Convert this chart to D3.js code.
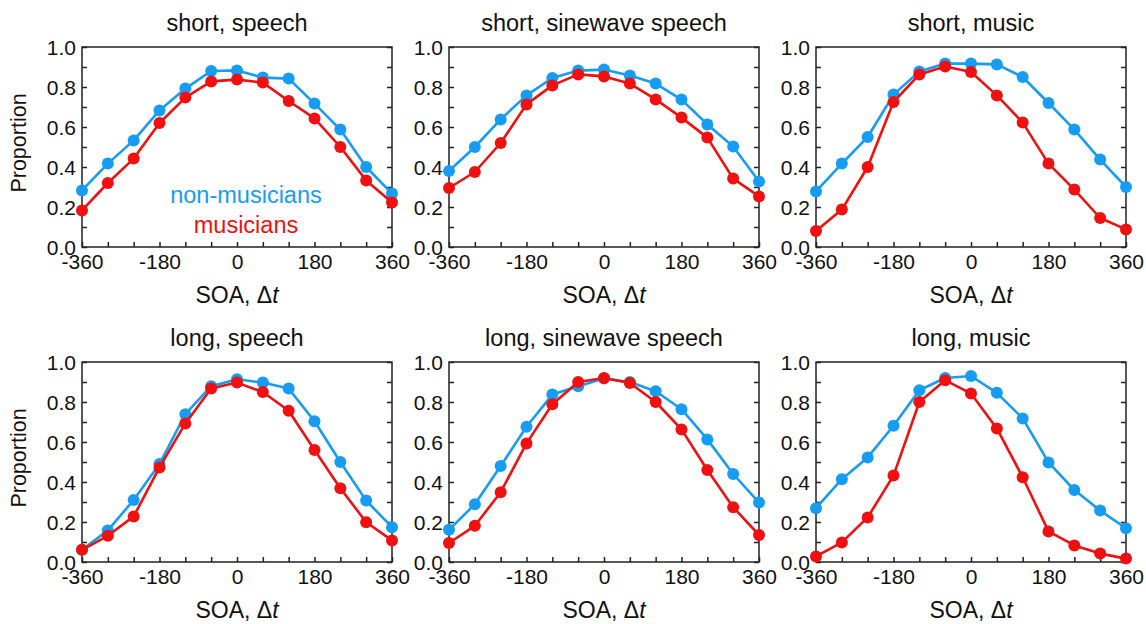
<!DOCTYPE html>
<html><head><meta charset="utf-8">
<script src="https://cdn.jsdelivr.net/npm/d3@7"></script>
<style>
html,body{margin:0;padding:0;background:#fff;}
text{font-family:"Liberation Sans",Arial,Helvetica,sans-serif;fill:#111;}
</style></head>
<body><svg id="c" width="1146" height="624"></svg>
<script>
const soa = [-360,-300,-240,-180,-120,-60,0,60,120,180,240,300,360];
const xTicks = [-360,-180,0,180,360];
const yTicks = [0,0.2,0.4,0.6,0.8,1.0];
const panelTitles = ["short, speech","short, sinewave speech","short, music","long, speech","long, sinewave speech","long, music"];
const seriesNames = ["non-musicians","musicians"];

const nonMusicians = [
  [0.283,0.417,0.533,0.683,0.792,0.880,0.883,0.847,0.842,0.717,0.587,0.400,0.267],
  [0.380,0.500,0.638,0.758,0.845,0.882,0.887,0.858,0.817,0.737,0.613,0.503,0.328],
  [0.278,0.417,0.550,0.762,0.878,0.917,0.917,0.913,0.850,0.720,0.587,0.437,0.300],
  [0.061,0.158,0.310,0.490,0.739,0.879,0.914,0.897,0.867,0.704,0.500,0.307,0.174],
  [0.161,0.289,0.480,0.676,0.837,0.879,0.917,0.900,0.854,0.764,0.613,0.440,0.297],
  [0.269,0.414,0.523,0.681,0.859,0.920,0.930,0.846,0.718,0.498,0.360,0.257,0.169]
];
const musicians = [
  [0.183,0.320,0.442,0.620,0.747,0.828,0.837,0.822,0.730,0.643,0.500,0.333,0.222],
  [0.295,0.375,0.520,0.713,0.808,0.863,0.853,0.817,0.738,0.647,0.547,0.342,0.253],
  [0.080,0.187,0.400,0.725,0.863,0.903,0.875,0.758,0.622,0.417,0.287,0.145,0.088],
  [0.061,0.131,0.228,0.473,0.693,0.867,0.897,0.850,0.756,0.560,0.369,0.199,0.108],
  [0.095,0.181,0.349,0.593,0.789,0.900,0.920,0.895,0.800,0.663,0.460,0.274,0.135],
  [0.028,0.098,0.223,0.432,0.800,0.909,0.842,0.668,0.424,0.153,0.083,0.042,0.017]
];

const colors = ["#179cf4","#f01010"];
const svg = d3.select("#c");
const colX = [82,449,816], rowY = [47,362];
const W = 310, H = 200;
const fs = 21;

for (let p=0;p<6;p++){
  const r = Math.floor(p/3), c = p%3;
  const g = svg.append("g").attr("transform",`translate(${colX[c]},${rowY[r]})`);
  const x = d3.scaleLinear().domain([-360,360]).range([0,W]);
  const y = d3.scaleLinear().domain([0,1]).range([H,0]);

  g.append("rect").attr("width",W).attr("height",H).attr("fill","none").attr("stroke","#222").attr("stroke-width",1.5);

  const xb = g.append("g").attr("transform",`translate(0,${H})`)
    .call(d3.axisBottom(x).tickValues(soa).tickSize(-5).tickFormat(d=>xTicks.includes(d)?String(d):""));
  xb.select(".domain").remove();
  xb.selectAll("line").attr("stroke","#222").attr("stroke-width",1.5);
  xb.selectAll("text").attr("font-size",fs).attr("dy",0).attr("y",22).attr("fill","#111");

  const yMinor = d3.range(0,1.0001,0.1);
  const yl = g.append("g")
    .call(d3.axisLeft(y).tickValues(yMinor).tickSize(-5).tickFormat(d=>{const v=Math.round(d*10);return v%2===0?d3.format(".1f")(d):"";}));
  yl.select(".domain").remove();
  yl.selectAll("line").attr("stroke","#222").attr("stroke-width",1.5);
  yl.selectAll("text").attr("font-size",fs).attr("x",-6).attr("dy","0.35em").attr("fill","#111");
  const yr = g.append("g").attr("transform",`translate(${W},0)`)
    .call(d3.axisRight(y).tickValues(yMinor).tickSize(-5).tickFormat(""));
  yr.select(".domain").remove();
  yr.selectAll("line").attr("stroke","#222").attr("stroke-width",1.5);

  g.append("text").attr("x",W/2).attr("y",-16).attr("text-anchor","middle").attr("font-size",23.5).text(panelTitles[p]);

  const xl = g.append("text").attr("x",W/2).attr("y",H+56).attr("text-anchor","middle").attr("font-size",23);
  xl.append("tspan").text("SOA, \u0394");
  xl.append("tspan").attr("font-style","italic").text("t");

  if (c===0){
    g.append("text").attr("transform",`translate(-56,${H/2-4}) rotate(-90)`).attr("text-anchor","middle").attr("font-size",21.5).text("Proportion");
  }

  const line = d3.line().x((d,i)=>x(soa[i])).y(d=>y(d));
  [nonMusicians[p], musicians[p]].forEach((vals,k)=>{
    g.append("path").datum(vals).attr("d",line).attr("fill","none").attr("stroke",colors[k]).attr("stroke-width",2.6).attr("stroke-linejoin","round");
    g.selectAll(null).data(vals).enter().append("circle")
      .attr("cx",(d,i)=>x(soa[i])).attr("cy",d=>y(d)).attr("r",6).attr("fill",colors[k]);
  });

  if (p===0){
    g.append("text").attr("x",164).attr("y",156).attr("text-anchor","middle").attr("font-size",23.5).style("fill",colors[0]).text(seriesNames[0]);
    g.append("text").attr("x",164).attr("y",186).attr("text-anchor","middle").attr("font-size",23.5).style("fill",colors[1]).text(seriesNames[1]);
  }
}
</script></body></html>
